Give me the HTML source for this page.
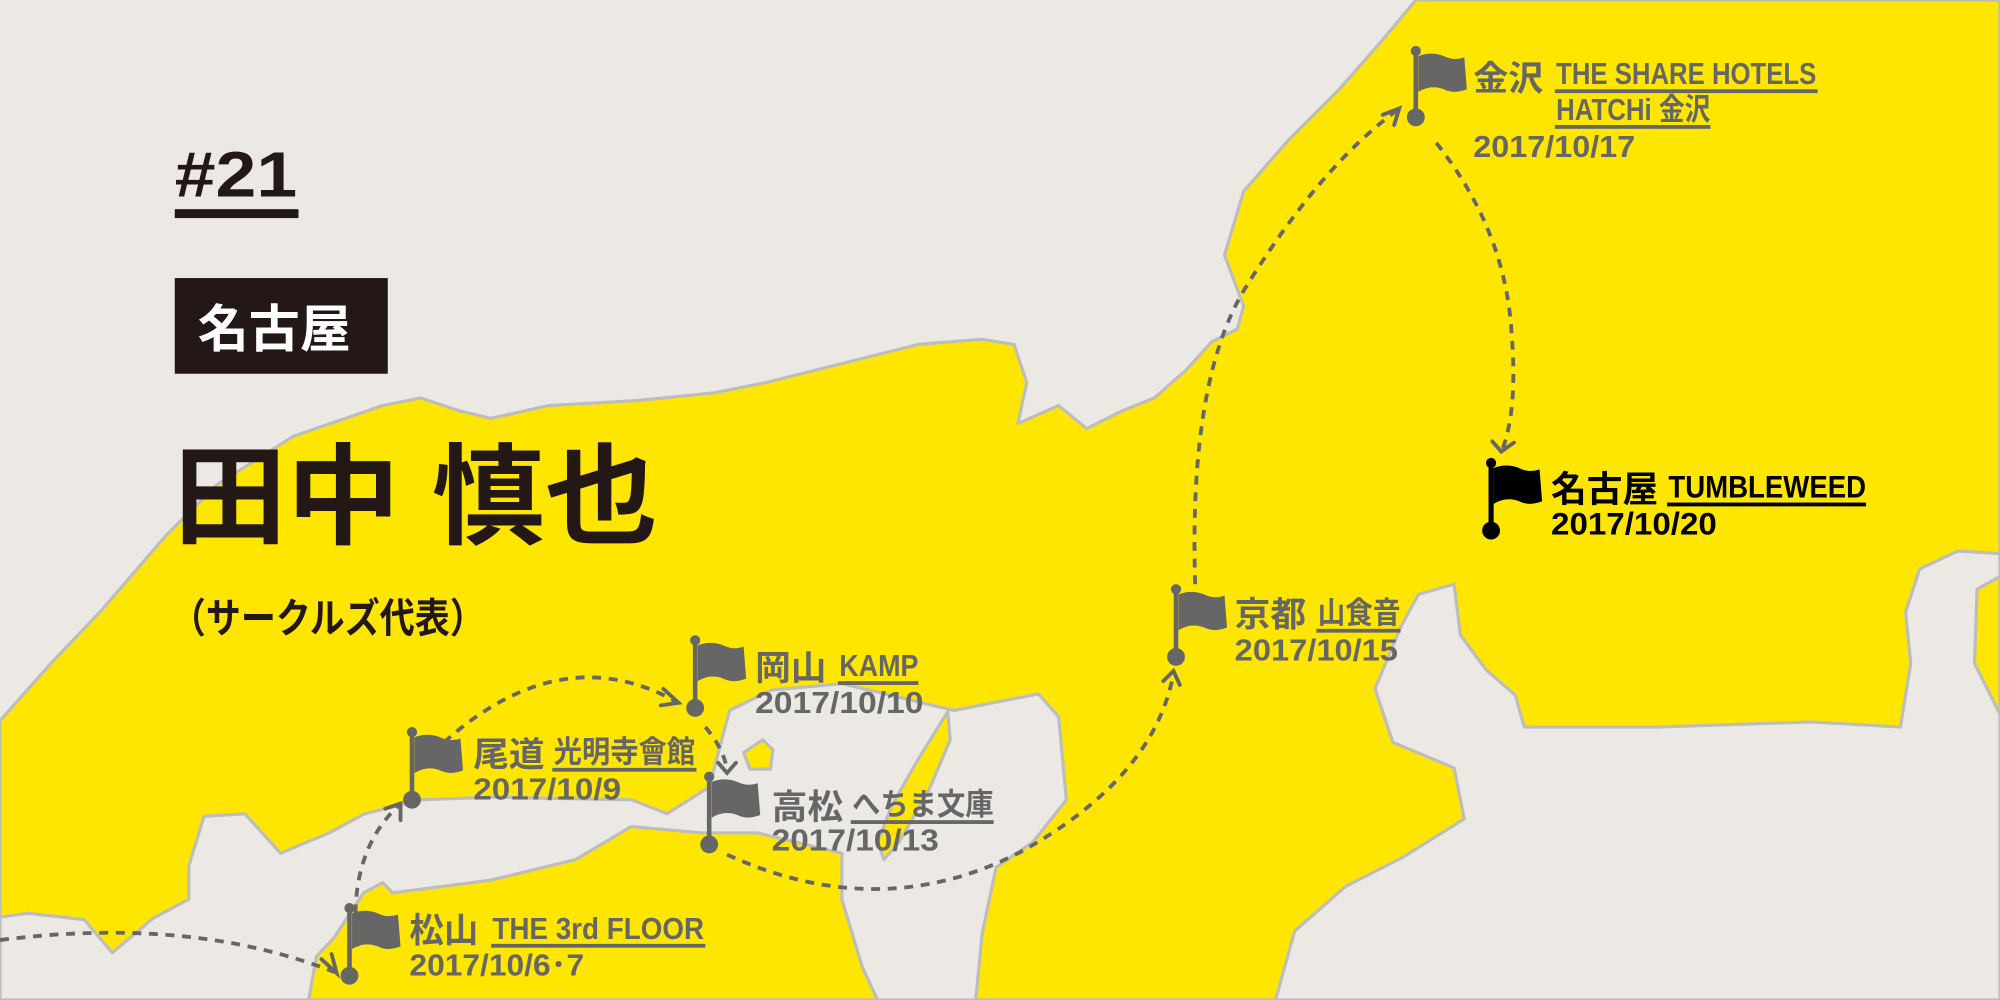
<!DOCTYPE html>
<html><head><meta charset="utf-8"><style>
html,body{margin:0;padding:0;background:#ECE9E4;}
svg{display:block}
.l{font-family:"Liberation Sans","Noto Sans CJK JP",sans-serif;font-weight:bold;fill:#666;}
.t{font-family:"Liberation Sans","Noto Sans CJK JP",sans-serif;font-weight:bold;fill:#231815;}
</style></head><body>
<svg width="2000" height="1000" viewBox="0 0 1568 784" xmlns="http://www.w3.org/2000/svg">
<rect width="1568" height="784" fill="#ECE9E4"/>
<g stroke="#BDBDBD" stroke-width="2.5" stroke-linejoin="round">
<path fill="#FFE600" d="M0,565 L40,520 L80,478 L130,420 L170,380 L230,342 L300,318 L330,312 L360,322 L385,328 L430,318 L500,314 L560,308 L600,300 L640,290 L680,280 L720,270 L770,266 L795,270 L805,300 L798,332 L830,318 L852,336 L880,322 L905,312 L930,290 L950,268 L970,258 L975,240 L960,200 L975,150 L1010,110 L1050,70 L1085,30 L1110,0 L1568,0 L1568,784 L0,784 Z"/>
<path fill="#ECE9E4" d="M0,719 L22,716 L66,721 L88,747 L120,720 L148,705 L148,679 L160,640 L192,638 L220,669 L258,653 L286,638 L330,627 L385,625 L495,627 L523,638 L556,617 L572,557 L605,541 L660,536 L748,557 L814,544 L830,562 L836,627 L810,660 L781,680 L770,732 L765,784 L0,784 Z"/>
<path fill="#FFE600" d="M242,784 L248,750 L262,735 L285,700 L300,692 L308,700 L385,690 L451,674 L495,648 L550,653 L594,653 L660,669 L660,705 L676,758 L688,784 Z"/>
<path fill="#FFE600" d="M743,558 L745,580 L728,620 L705,660 L693,674 L688,660 L700,630 L720,595 Z"/>
<path fill="#FFE600" d="M583,590 L598,580 L606,588 L604,603 L588,603 Z"/>
<path fill="#ECE9E4" d="M1000,784 L1015,730 L1055,695 L1100,672 L1148,642 L1140,602 L1092,582 L1078,540 L1098,492 L1112,466 L1140,458 L1145,498 L1165,525 L1188,545 L1195,570 L1300,570 L1420,566 L1490,570 L1498,520 L1494,480 L1505,446 L1535,432 L1568,434 L1568,452 L1550,462 L1548,520 L1568,560 L1568,784 Z"/>
</g>
<g fill="none" stroke="#666" stroke-width="3" stroke-dasharray="7 6">
<path d="M0,737 Q150,718 262,762"/>
<path d="M280,742 Q272,670 312,632"/>
<path d="M348,582 Q440,500 530,550"/>
<path d="M553,570 Q568,588 570,604"/>
<path d="M570,670 Q690,725 800,668 Q905,610 920,528"/>
<path d="M937,458 Q932,300 975,228 Q1035,130 1096,86"/>
<path d="M1126,112 Q1180,180 1185,260 Q1190,320 1178,352"/>
</g>
<g fill="none" stroke="#666" stroke-width="3" stroke-linecap="round">
<path d="M252,752 L264,763 L260,748"/>
<path d="M302,634 L314,630 L314,643"/>
<path d="M520,540 L532,551 L518,553"/>
<path d="M563,598 L570,606 L577,598"/>
<path d="M912,534 L920,526 L925,537"/>
<path d="M1084,90 L1097,85 L1093,98"/>
<path d="M1170,346 L1177,354 L1187,347"/>
</g>
<g fill="#666">
<g transform="translate(1110,40)"><circle r="4"/><rect x="-1.8" y="0" width="3.6" height="52"/><circle cy="52" r="7"/><path d="M2,4 Q12,0 22,4 Q30,8 38,5 L40,30 Q30,34 22,30 Q12,26 2,32 Z"/></g>
<g transform="translate(922,462)"><circle r="4"/><rect x="-1.8" y="0" width="3.6" height="53"/><circle cy="53" r="7"/><path d="M2,4 Q12,0 22,4 Q30,8 38,5 L40,30 Q30,34 22,30 Q12,26 2,32 Z"/></g>
<g transform="translate(545,502)"><circle r="4"/><rect x="-1.8" y="0" width="3.6" height="53"/><circle cy="53" r="7"/><path d="M2,4 Q12,0 22,4 Q30,8 38,5 L40,30 Q30,34 22,30 Q12,26 2,32 Z"/></g>
<g transform="translate(323,574)"><circle r="4"/><rect x="-1.8" y="0" width="3.6" height="53"/><circle cy="53" r="7"/><path d="M2,4 Q12,0 22,4 Q30,8 38,5 L40,30 Q30,34 22,30 Q12,26 2,32 Z"/></g>
<g transform="translate(556,609)"><circle r="4"/><rect x="-1.8" y="0" width="3.6" height="53"/><circle cy="53" r="7"/><path d="M2,4 Q12,0 22,4 Q30,8 38,5 L40,30 Q30,34 22,30 Q12,26 2,32 Z"/></g>
<g transform="translate(274,712)"><circle r="4"/><rect x="-1.8" y="0" width="3.6" height="53"/><circle cy="53" r="7"/><path d="M2,4 Q12,0 22,4 Q30,8 38,5 L40,30 Q30,34 22,30 Q12,26 2,32 Z"/></g>
</g>
<g fill="#000" transform="translate(1169,363)"><circle r="4"/><rect x="-2" y="0" width="4" height="53"/><circle cy="53" r="7"/><path d="M2,4 Q12,0 22,4 Q30,8 38,5 L40,30 Q30,34 22,30 Q12,26 2,32 Z"/></g>
<g class="l">
<text x="1155" y="71" font-size="27" textLength="55" lengthAdjust="spacingAndGlyphs">金沢</text>
<text x="1220" y="66" font-size="24" textLength="204" lengthAdjust="spacingAndGlyphs">THE SHARE HOTELS</text>
<rect x="1219" y="70" width="206" height="3"/>
<text x="1220" y="94" font-size="24" textLength="121" lengthAdjust="spacingAndGlyphs">HATCHi 金沢</text>
<rect x="1219" y="98" width="122" height="3"/>
<text x="1155" y="123" font-size="24" textLength="127" lengthAdjust="spacingAndGlyphs">2017/10/17</text>

<text x="968" y="491" font-size="27" textLength="56" lengthAdjust="spacingAndGlyphs">京都</text>
<text x="1033" y="489" font-size="24" textLength="65" lengthAdjust="spacingAndGlyphs">山食音</text>
<rect x="1032" y="493" width="66" height="3"/>
<text x="968" y="518" font-size="24" textLength="128" lengthAdjust="spacingAndGlyphs">2017/10/15</text>

<text x="592" y="533" font-size="27" textLength="56" lengthAdjust="spacingAndGlyphs">岡山</text>
<text x="658" y="530" font-size="24" textLength="62" lengthAdjust="spacingAndGlyphs">KAMP</text>
<rect x="657" y="534" width="63" height="3"/>
<text x="592" y="559" font-size="24" textLength="132" lengthAdjust="spacingAndGlyphs">2017/10/10</text>

<text x="371" y="601" font-size="27" textLength="56" lengthAdjust="spacingAndGlyphs">尾道</text>
<text x="434" y="598" font-size="24" textLength="111" lengthAdjust="spacingAndGlyphs">光明寺會館</text>
<rect x="433" y="602" width="113" height="3"/>
<text x="371" y="627" font-size="24" textLength="116" lengthAdjust="spacingAndGlyphs">2017/10/9</text>

<text x="605" y="642" font-size="27" textLength="56" lengthAdjust="spacingAndGlyphs">高松</text>
<text x="668" y="639" font-size="24" textLength="111" lengthAdjust="spacingAndGlyphs">へちま文庫</text>
<rect x="667" y="643" width="112" height="3"/>
<text x="605" y="667" font-size="24" textLength="131" lengthAdjust="spacingAndGlyphs">2017/10/13</text>

<text x="321" y="739" font-size="27" textLength="54" lengthAdjust="spacingAndGlyphs">松山</text>
<text x="386" y="736" font-size="24" textLength="166" lengthAdjust="spacingAndGlyphs">THE 3rd FLOOR</text>
<rect x="385" y="740" width="168" height="3"/>
<text x="321" y="765" font-size="24" textLength="137" lengthAdjust="spacingAndGlyphs">2017/10/6･7</text>
</g>
<g class="t" style="fill:#000">
<text x="1216" y="393" font-size="28" textLength="84" lengthAdjust="spacingAndGlyphs">名古屋</text>
<text x="1308" y="390" font-size="25" textLength="155" lengthAdjust="spacingAndGlyphs">TUMBLEWEED</text>
<rect x="1307" y="394" width="156" height="3" fill="#000"/>
<text x="1216" y="419" font-size="25" textLength="130" lengthAdjust="spacingAndGlyphs">2017/10/20</text>
</g>
<g class="t">
<text x="137" y="154" font-size="50" textLength="96" lengthAdjust="spacingAndGlyphs">#21</text>
<rect x="137" y="164" width="97" height="7" fill="#231815"/>
<rect x="137" y="218" width="167" height="75" fill="#231815"/>
<text x="155" y="272" font-size="40" style="fill:#fff">名古屋</text>
<text x="136" y="420" font-size="86" textLength="380" lengthAdjust="spacingAndGlyphs">田中 慎也</text>
<text x="134" y="496" font-size="32" textLength="246" lengthAdjust="spacingAndGlyphs">（サークルズ代表）</text>
</g>
</svg>
</body></html>
